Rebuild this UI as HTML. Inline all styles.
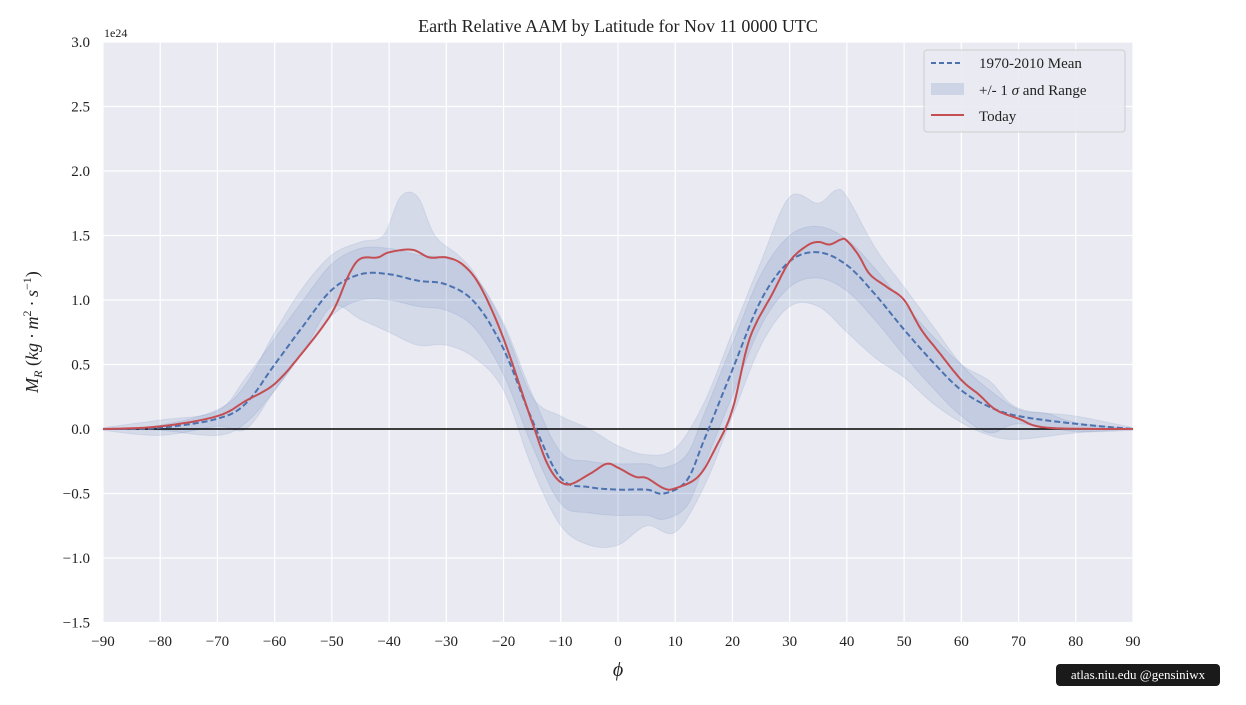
<!DOCTYPE html>
<html><head><meta charset="utf-8"><style>
body{margin:0;background:#fff;width:1246px;height:700px;overflow:hidden;font-family:"Liberation Serif",serif}
svg text{font-family:"Liberation Serif",serif}
</style></head><body>
<svg id="s" width="1246" height="700" xmlns="http://www.w3.org/2000/svg">
<rect x="103" y="42" width="1030" height="580" fill="#eaeaf2"/>
<g id="grid" stroke="#fff" stroke-width="1.2"></g>
<g id="bands"></g>
<line x1="103" x2="1133" y1="429" y2="429" stroke="#000" stroke-width="1.5"/>
<g id="lines"></g>
<g id="labels" font-size="15" fill="#222"></g>
<text x="618" y="32" text-anchor="middle" font-size="18" fill="#222">Earth Relative AAM by Latitude for Nov 11 0000 UTC</text>
<text x="104" y="37" font-size="12" fill="#222">1e24</text>
<text x="618" y="676" text-anchor="middle" font-size="20" font-style="italic" fill="#222">ϕ</text>
<text transform="translate(38,332) rotate(-90)" text-anchor="middle" font-size="18" fill="#222" font-family="DejaVu Sans"><tspan font-style="italic">M</tspan><tspan font-size="12" dy="4" font-style="italic">R</tspan><tspan dy="-4">  (</tspan><tspan font-style="italic">kg · m</tspan><tspan font-size="12" dy="-7">2</tspan><tspan dy="7" font-style="italic"> · s</tspan><tspan font-size="12" dy="-7">−1</tspan><tspan dy="7">)</tspan></text>
<rect x="924" y="50" width="201" height="82" rx="3" fill="#eaeaf2" stroke="#ccc" opacity="0.9"/>
<line x1="931" x2="961" y1="63" y2="63" stroke="#4c72b0" stroke-width="2" stroke-dasharray="5,3"/>
<text x="979" y="68" font-size="15" fill="#222">1970-2010 Mean</text>
<rect x="931" y="83" width="33" height="12" fill="#4c72b0" opacity="0.18"/>
<text x="979" y="95" font-size="15" fill="#222">+/- 1 <tspan font-style="italic">σ</tspan> and Range</text>
<line x1="931" x2="964" y1="115" y2="115" stroke="#c44e52" stroke-width="2"/>
<text x="979" y="121" font-size="15" fill="#222">Today</text>
<rect x="1056" y="664" width="164" height="22" rx="4" fill="#1a1a1a"/>
<text x="1138" y="679" text-anchor="middle" font-size="13" fill="#fff">atlas.niu.edu  @gensiniwx</text>
</svg>
<script>
const X=l=>618+l*1030/180, Y=v=>429-v*129;
const ns="http://www.w3.org/2000/svg";
function el(p,t,a){const e=document.createElementNS(ns,t);for(const k in a)e.setAttribute(k,a[k]);document.getElementById(p).appendChild(e);return e;}
for(let l=-90;l<=90;l+=10){el('grid','line',{x1:X(l),x2:X(l),y1:42,y2:622});const t=el('labels','text',{x:X(l),y:646,'text-anchor':'middle'});t.textContent=(l<0?'−':'')+Math.abs(l);}
for(let v=-1.5;v<=3.0001;v+=0.5){el('grid','line',{x1:103,x2:1133,y1:Y(v),y2:Y(v)});const t=el('labels','text',{x:90,y:Y(v)+5,'text-anchor':'end'});t.textContent=(v<0?'−':'')+Math.abs(v).toFixed(1);}
function interp(pts){const o=[];for(let i=0;i<pts.length-1;i++){const p0=pts[Math.max(0,i-1)],p1=pts[i],p2=pts[i+1],p3=pts[Math.min(pts.length-1,i+2)];for(let s=0;s<8;s++){const t=s/8,t2=t*t,t3=t2*t;const f=(a,b,c,d)=>0.5*((2*b)+(-a+c)*t+(2*a-5*b+4*c-d)*t2+(-a+3*b-3*c+d)*t3);o.push([f(p0[0],p1[0],p2[0],p3[0]),f(p0[1],p1[1],p2[1],p3[1])]);}}o.push(pts[pts.length-1]);return o;}
const mean=[[-90,0],[-80,0.01],[-70,0.08],[-65,0.2],[-60,0.5],[-55,0.8],[-50,1.08],[-45,1.2],[-40,1.2],[-35,1.15],[-30,1.12],[-25,0.98],[-20,0.62],[-15,0.07],[-10,-0.38],[-5,-0.45],[0,-0.47],[5,-0.47],[8,-0.5],[12,-0.4],[15,-0.09],[20,0.46],[25,1.0],[30,1.3],[35,1.37],[40,1.27],[45,1.04],[50,0.77],[55,0.52],[60,0.3],[65,0.17],[70,0.1],[80,0.04],[90,0]];
const today=[[-90,0],[-80,0.02],[-70,0.1],[-65,0.22],[-60,0.35],[-55,0.6],[-50,0.9],[-47,1.2],[-45,1.32],[-42,1.33],[-40,1.37],[-36,1.39],[-33,1.33],[-30,1.33],[-27,1.27],[-24,1.1],[-20,0.7],[-15,0.05],[-12,-0.3],[-9,-0.43],[-5,-0.35],[-2,-0.27],[0,-0.3],[3,-0.37],[5,-0.38],[8,-0.46],[10,-0.46],[14,-0.37],[17,-0.15],[20,0.15],[23,0.7],[27,1.05],[30,1.3],[33,1.42],[35,1.45],[37,1.43],[39,1.47],[40,1.46],[42,1.35],[44,1.2],[47,1.1],[50,1.0],[53,0.77],[56,0.6],[60,0.38],[63,0.27],[66,0.15],[70,0.08],[75,0.01],[90,0]];
const ru=[[-90,0],[-80,0.03],[-70,0.15],[-65,0.35],[-60,0.75],[-55,1.1],[-50,1.35],[-45,1.45],[-41,1.5],[-38,1.8],[-35,1.8],[-32,1.5],[-28,1.35],[-25,1.2],[-20,0.8],[-15,0.25],[-10,0.1],[-5,0.0],[0,-0.13],[5,-0.2],[10,-0.15],[15,0.2],[20,0.75],[25,1.3],[30,1.8],[35,1.75],[38,1.85],[40,1.8],[45,1.4],[50,1.1],[55,0.8],[60,0.5],[65,0.3],[70,0.15],[75,0.12],[80,0.05],[90,0]];
const rl=[[-90,0],[-80,-0.01],[-70,-0.05],[-65,0.05],[-60,0.3],[-55,0.6],[-50,0.95],[-45,0.85],[-40,0.75],[-35,0.65],[-30,0.65],[-25,0.55],[-20,0.3],[-15,-0.3],[-10,-0.75],[-5,-0.9],[0,-0.9],[5,-0.75],[10,-0.8],[15,-0.45],[20,0.1],[25,0.65],[30,0.95],[35,0.95],[40,0.75],[45,0.55],[50,0.4],[55,0.2],[60,0.05],[65,-0.05],[70,-0.08],[80,-0.03],[90,0]];
const sd=l=>{const a=Math.abs(l);return a>80?0.01:(a>65?0.06:0.2);};
const su=mean.map(p=>[p[0],p[1]+sd(p[0])]), sl=mean.map(p=>[p[0],p[1]-sd(p[0])]);
const P=a=>interp(a).map(p=>X(p[0]).toFixed(1)+','+Y(p[1]).toFixed(1));
function band(u,l){el('bands','path',{d:'M'+P(u).join('L')+'L'+P(l).reverse().join('L')+'Z',fill:'#4c72b0','fill-opacity':0.13,stroke:'#4c72b0','stroke-opacity':0.12});}
band(ru,rl);band(su,sl);
el('lines','path',{d:'M'+P(mean).join('L'),fill:'none',stroke:'#4c72b0','stroke-width':2,'stroke-dasharray':'6,3'});
el('lines','path',{d:'M'+P(today).join('L'),fill:'none',stroke:'#c44e52','stroke-width':2});
</script>
</body></html>
